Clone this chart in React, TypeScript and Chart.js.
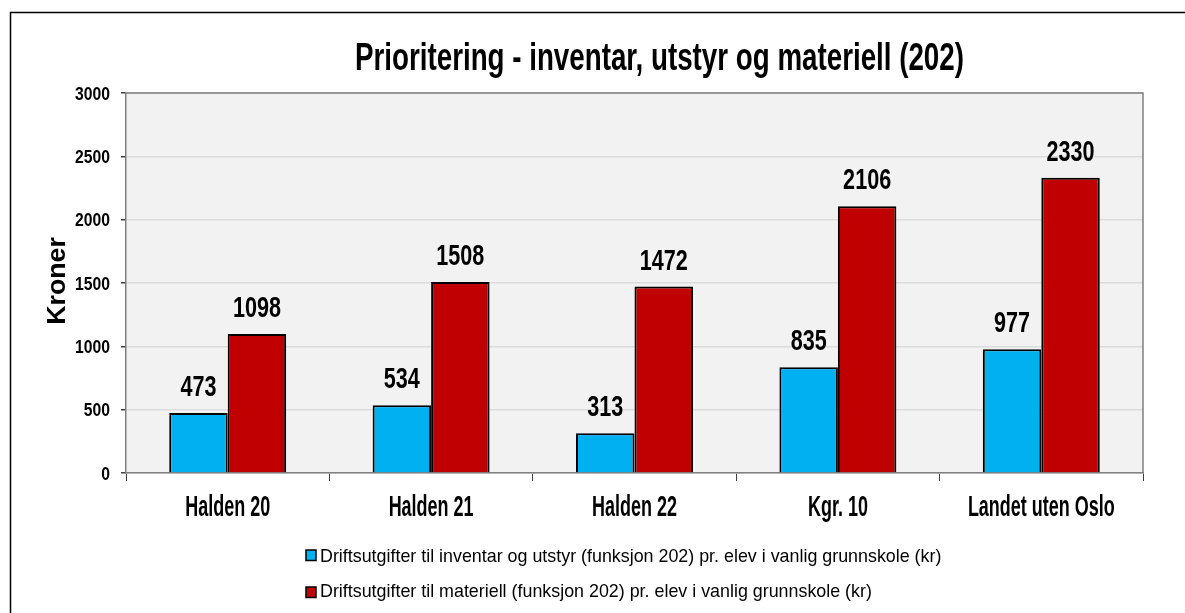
import React, { useEffect, useRef } from "react";
import { Chart, registerables } from "chart.js";

Chart.register(...registerables);

const categories = ["Halden 20", "Halden 21", "Halden 22", "Kgr. 10", "Landet uten Oslo"];
const inventarValues = [473, 534, 313, 835, 977];
const materiellValues = [1098, 1508, 1472, 2106, 2330];
const seriesLabels = [
  "Driftsutgifter til inventar og utstyr (funksjon 202) pr. elev i vanlig grunnskole (kr)",
  "Driftsutgifter til materiell (funksjon 202) pr. elev i vanlig grunnskole (kr)",
];
const seriesColors = ["#00B0F0", "#C00000"];
const chartTitle = "Prioritering - inventar, utstyr og materiell (202)";
const yAxisTitle = "Kroner";
const yMin = 0;
const yMax = 3000;
const yStep = 500;

const FONT = "'Liberation Sans', Arial, sans-serif";

function drawText(
  ctx: CanvasRenderingContext2D,
  text: string,
  x: number,
  y: number,
  size: number,
  bold: boolean,
  sx: number,
  align: CanvasTextAlign
) {
  ctx.save();
  ctx.translate(x, y);
  ctx.scale(sx, 1);
  ctx.font = `${bold ? "bold " : ""}${size}px ${FONT}`;
  ctx.textAlign = align;
  ctx.textBaseline = "alphabetic";
  ctx.fillText(text, 0, 0);
  ctx.restore();
}

const decorPlugin = {
  id: "decor",
  beforeDraw(chart: any) {
    const { ctx, chartArea: a, width, height } = chart;
    ctx.save();
    ctx.fillStyle = "#FFFFFF";
    ctx.fillRect(0, 0, width, height);
    ctx.strokeStyle = "#000000";
    ctx.lineWidth = 1.5;
    ctx.beginPath();
    ctx.moveTo(10.5, height + 5);
    ctx.lineTo(10.5, 12.5);
    ctx.lineTo(width + 5, 12.5);
    ctx.stroke();
    ctx.fillStyle = "#F2F2F2";
    ctx.fillRect(a.left, a.top, a.right - a.left, a.bottom - a.top);
    ctx.restore();
  },
  afterDatasetsDraw(chart: any) {
    const { ctx, chartArea: a } = chart;
    ctx.save();
    ctx.strokeStyle = "#808080";
    ctx.lineWidth = 1.5;
    ctx.beginPath();
    ctx.moveTo(a.left, a.top);
    ctx.lineTo(a.right, a.top);
    ctx.lineTo(a.right, a.bottom);
    ctx.stroke();
    ctx.fillStyle = "#000000";
    chart.data.datasets.forEach((ds: any, di: number) => {
      const meta = chart.getDatasetMeta(di);
      meta.data.forEach((bar: any, i: number) => {
        drawText(ctx, String(ds.data[i]), bar.x, bar.y - 17, 30, true, 0.72, "center");
      });
    });
    ctx.restore();
  },
  afterDraw(chart: any) {
    const { ctx, chartArea: a } = chart;
    ctx.save();
    ctx.fillStyle = "#000000";
    // title
    drawText(ctx, chartTitle, 659.5, 70, 38, true, 0.73, "center");
    // y axis title
    ctx.save();
    ctx.translate(65, (a.top + a.bottom) / 2 - 2);
    ctx.rotate(-Math.PI / 2);
    drawText(ctx, yAxisTitle, 0, 0, 25, true, 1.07, "center");
    ctx.restore();
    // y tick labels
    const ys = chart.scales.y;
    ys.ticks.forEach((t: any, i: number) => {
      const py = ys.getPixelForTick(i);
      drawText(ctx, String(t.value), 110, py + 6.6, 18.5, true, 0.85, "right");
    });
    // x tick labels
    const xs = chart.scales.x;
    xs.getLabels().forEach((lab: string, i: number) => {
      const px = xs.getPixelForTick(i);
      drawText(ctx, lab, px, 516, 29, true, 0.62, "center");
    });
    // legend
    chart.data.datasets.forEach((ds: any, i: number) => {
      const top = i === 0 ? 550 : 587;
      ctx.fillStyle = ds.backgroundColor;
      ctx.fillRect(306, top, 10, 10.5);
      ctx.strokeStyle = "#000000";
      ctx.lineWidth = 1.5;
      ctx.strokeRect(306, top, 10, 10.5);
      ctx.fillStyle = "#000000";
      drawText(ctx, ds.label, 320, i === 0 ? 562 : 597, 19, false, 0.94, "left");
    });
    ctx.restore();
  },
};

export default function App() {
  const ref = useRef<HTMLCanvasElement | null>(null);
  useEffect(() => {
    document.body.style.margin = "0";
    const canvas = ref.current;
    if (!canvas) return;
    const chart = new Chart(canvas, {
      type: "bar",
      data: {
        labels: categories,
        datasets: [
          {
            label: seriesLabels[0],
            data: inventarValues,
            backgroundColor: seriesColors[0],
            borderColor: "#000000",
            borderWidth: 2,
            categoryPercentage: 0.575,
            barPercentage: 1,
          },
          {
            label: seriesLabels[1],
            data: materiellValues,
            backgroundColor: seriesColors[1],
            borderColor: "#000000",
            borderWidth: 2,
            categoryPercentage: 0.575,
            barPercentage: 1,
          },
        ],
      },
      options: {
        responsive: false,
        animation: false,
        devicePixelRatio: 1,
        layout: { padding: { left: 66, right: 42, top: 93, bottom: 90 } },
        plugins: {
          legend: { display: false },
          title: { display: false },
          tooltip: { enabled: false },
        },
        scales: {
          x: {
            offset: true,
            grid: {
              display: true,
              drawOnChartArea: false,
              drawTicks: true,
              tickLength: 8,
              tickColor: "#404040",
              offset: true,
            },
            border: { display: true, color: "#808080", width: 1.5 },
            ticks: { display: false, autoSkip: false },
            afterFit(scale: any) {
              scale.height = 50;
            },
          },
          y: {
            min: yMin,
            max: yMax,
            ticks: { display: false, stepSize: yStep },
            grid: {
              color: "#DCDCDC",
              lineWidth: 1.5,
              drawTicks: true,
              tickLength: 5,
              tickColor: "#404040",
            },
            border: { display: true, color: "#808080", width: 1.5 },
            afterFit(scale: any) {
              scale.width = 60;
            },
          },
        },
      },
      plugins: [decorPlugin],
    } as any);
    return () => chart.destroy();
  }, []);
  return (
    <div style={{ position: "absolute", left: 0, top: 0, width: 1185, height: 613 }}>
      <canvas ref={ref} width={1185} height={613} style={{ width: 1185, height: 613 }} />
    </div>
  );
}
